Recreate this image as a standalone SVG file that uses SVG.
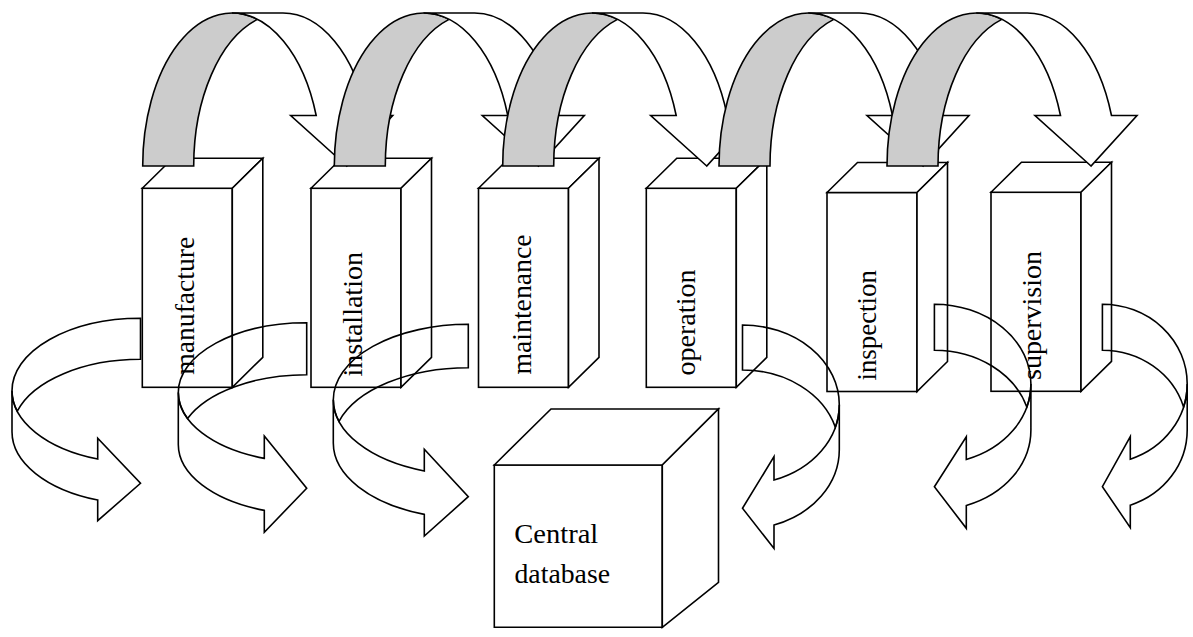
<svg xmlns="http://www.w3.org/2000/svg" width="1193" height="637" viewBox="0 0 1193 637">
<style>
  .face { fill: #ffffff; stroke: #000000; stroke-width: 1.6; stroke-linejoin: miter; }
  .back { fill: #cccccc; stroke: #000000; stroke-width: 1.6; stroke-linejoin: miter; }
  .front { fill: #ffffff; stroke: #000000; stroke-width: 1.6; stroke-linejoin: miter; }
  .open { fill: none; stroke: #000000; stroke-width: 1.6; stroke-linejoin: miter; }
  .lbl { font-family: "Liberation Serif", "Times New Roman", serif; font-size: 26.5px; fill: #000000; }
</style>
<defs>
  <g id="prism">
    <rect class="face" x="0" y="0" width="90" height="199"/>
    <polygon class="face" points="0,0 30.5,-30 120.5,-30 90,0"/>
    <polygon class="face" points="90,0 120.5,-30 120.5,169 90,199"/>
  </g>
  <g id="topArrow">
    <path class="back" d="M0,166 A89.25,153 0 0 1 114.75,19.38 A89.25,153 0 0 0 51,166 Z"/>
    <path class="front" d="M204,166 L148,115.5 L173.5,115.5 A89.25,153 0 0 0 89.25,13 L140.25,13 A89.25,153 0 0 1 224.5,115.5 L250,115.5 Z"/>
  </g>
</defs>

<g id="manufacture">
  <use href="#prism" x="142.3" y="188.3"/>
  <text class="lbl" transform="translate(194,305.7) rotate(-90)" text-anchor="middle" textLength="138" lengthAdjust="spacingAndGlyphs">manufacture</text>
</g>
<g id="installation">
  <use href="#prism" x="311" y="188.3"/>
  <text class="lbl" transform="translate(362,314.3) rotate(-90)" text-anchor="middle" textLength="124.5" lengthAdjust="spacingAndGlyphs">installation</text>
</g>
<g id="maintenance">
  <use href="#prism" x="478.5" y="188.3"/>
  <text class="lbl" transform="translate(531,304.5) rotate(-90)" text-anchor="middle" textLength="140" lengthAdjust="spacingAndGlyphs">maintenance</text>
</g>
<g id="operation">
  <use href="#prism" x="646.3" y="188.3"/>
  <text class="lbl" transform="translate(695,322.5) rotate(-90)" text-anchor="middle" textLength="106" lengthAdjust="spacingAndGlyphs">operation</text>
</g>
<g id="inspection">
  <use href="#prism" x="827" y="192.5"/>
  <text class="lbl" transform="translate(875.5,325.3) rotate(-90)" text-anchor="middle" textLength="110.5" lengthAdjust="spacingAndGlyphs">inspection</text>
</g>
<g id="supervision">
  <use href="#prism" x="991" y="192.3"/>
  <text class="lbl" transform="translate(1040.5,315.5) rotate(-90)" text-anchor="middle" textLength="129" lengthAdjust="spacingAndGlyphs">supervision</text>
</g>

<g id="central-database">
  <polygon class="face" points="494.3,465 662.3,465 662.3,627.3 494.3,627.3"/>
  <polygon class="face" points="494.3,465 551,409 718.5,409 662.3,465"/>
  <polygon class="face" points="662.3,465 718.5,409 718.5,582.3 662.3,627.3"/>
  <text class="lbl" x="514.3" y="543.3" textLength="84" lengthAdjust="spacingAndGlyphs">Central</text>
  <text class="lbl" x="514.5" y="583.3" textLength="95.5" lengthAdjust="spacingAndGlyphs">database</text>
</g>

<g id="connectors">
  <use href="#topArrow" x="142.7" y="0"/>
  <use href="#topArrow" x="334.3" y="0"/>
  <use href="#topArrow" x="502.7" y="0"/>
  <use href="#topArrow" x="719" y="0"/>
  <use href="#topArrow" x="887" y="0"/>

  <path class="open" d="M140.5,318.3 A128.5,72.4 0 0 0 12,390.7 A128.5,72.4 0 0 0 17.26,411.2 A128.5,72.4 0 0 1 140.5,359.3 Z"/>
  <path class="open" d="M12,390.7 A128.5,72.4 0 0 0 97.7,458.97 L97.7,438.3 L140.5,483.3 L97.7,520.7 L97.7,499.97 A128.5,72.4 0 0 1 12,431.7 Z"/>

  <path class="open" d="M306.7,322.7 A128.4,69.8 0 0 0 178.3,392.5 A128.4,69.8 0 0 0 187.54,418.5 A128.4,69.8 0 0 1 306.7,374.7 Z"/>
  <path class="open" d="M178.3,392.5 A128.4,69.8 0 0 0 264.3,458.38 L264.3,436 L306.7,488.3 L264.3,532.2 L264.3,510.38 A128.4,69.8 0 0 1 178.3,444.5 Z"/>

  <path class="open" d="M468.3,324.3 A135,75.4 0 0 0 333.3,399.7 A135,75.4 0 0 0 339.01,421.4 A135,75.4 0 0 1 468.3,367.7 Z"/>
  <path class="open" d="M333.3,399.7 A135,75.4 0 0 0 424.3,470.98 L424.3,449.3 L468.3,496.7 L424.3,536.06 L424.3,514.38 A135,75.4 0 0 1 333.3,443.1 Z"/>

  <path class="open" d="M742.5,325 A96.8,79.7 0 0 1 839.3,404.7 A96.8,79.7 0 0 1 835.36,427.2 A96.8,79.7 0 0 0 742.5,370 Z"/>
  <path class="open" d="M839.3,404.7 A96.8,79.7 0 0 1 774,480.06 L774,456.7 L742.5,508.3 L774,548.42 L774,525.06 A96.8,79.7 0 0 0 839.3,449.7 Z"/>

  <path class="open" d="M934.4,304.2 A96.5,79.9 0 0 1 1030.9,384.1 A96.5,79.9 0 0 1 1026.82,407.1 A96.5,79.9 0 0 0 934.4,350.2 Z"/>
  <path class="open" d="M1030.9,384.1 A96.5,79.9 0 0 1 966.3,459.51 L966.3,436.7 L934.4,486.7 L966.3,528.32 L966.3,505.51 A96.5,79.9 0 0 0 1030.9,430.1 Z"/>

  <path class="open" d="M1102.4,304.2 A84.8,79.7 0 0 1 1187.2,383.9 A84.8,79.7 0 0 1 1183.59,406.9 A84.8,79.7 0 0 0 1102.4,350.2 Z"/>
  <path class="open" d="M1187.2,383.9 A84.8,79.7 0 0 1 1130.3,459.16 L1130.3,436.7 L1102.4,486.7 L1130.3,527.62 L1130.3,505.16 A84.8,79.7 0 0 0 1187.2,429.9 Z"/>
</g>
</svg>
